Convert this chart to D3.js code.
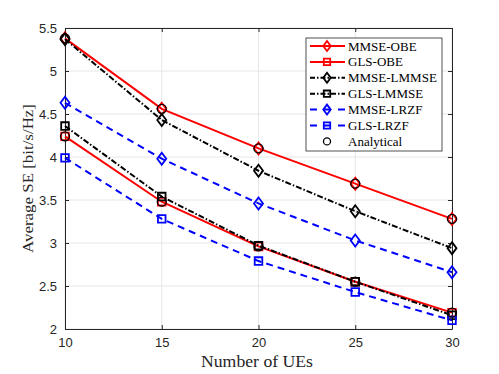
<!DOCTYPE html>
<html>
<head>
<meta charset="utf-8">
<script src="https://cdn.jsdelivr.net/npm/d3@7"></script>
<style>
  body { margin: 0; background: #fff; }
</style>
</head>
<body>
<div class="chart"></div>
<script>
const ues = [10, 15, 20, 25, 30];
const mmseObe = [5.38, 4.56, 4.10, 3.69, 3.28];
const glsObe = [4.24, 3.48, 2.96, 2.55, 2.19];
const mmseLmmse = [5.37, 4.43, 3.84, 3.37, 2.94];
const glsLmmse = [4.36, 3.54, 2.97, 2.55, 2.16];
const mmseLrzf = [4.63, 3.98, 3.46, 3.03, 2.66];
const glsLrzf = [3.99, 3.28, 2.79, 2.43, 2.10];
const xTicks = [10, 15, 20, 25, 30];
const yTicks = [2, 2.5, 3, 3.5, 4, 4.5, 5, 5.5];

const series = [
  {name: 'MMSE-OBE', values: mmseObe, color: '#ff0000', dash: null, marker: 'diamond'},
  {name: 'GLS-OBE', values: glsObe, color: '#ff0000', dash: null, marker: 'square'},
  {name: 'MMSE-LMMSE', values: mmseLmmse, color: '#000000', dash: '6,2,1.5,2', marker: 'diamond'},
  {name: 'GLS-LMMSE', values: glsLmmse, color: '#000000', dash: '6,2,1.5,2', marker: 'square'},
  {name: 'MMSE-LRZF', values: mmseLrzf, color: '#0000ff', dash: '7,5', marker: 'diamond'},
  {name: 'GLS-LRZF', values: glsLrzf, color: '#0000ff', dash: '7,5', marker: 'square'}
];
// analytical results sit on the OBE curves
const analytical = [mmseObe, glsObe];

const width = 499, height = 374;
const margin = {top: 28, right: 47, bottom: 45, left: 65};

const svg = d3.select('.chart')
  .append('svg')
    .attr('width', width)
    .attr('height', height);

const x = d3.scaleLinear()
  .domain([10, 30])
  .range([margin.left, width - margin.right]);

const y = d3.scaleLinear()
  .domain([2, 5.5])
  .range([height - margin.bottom, margin.top]);

const axisColor = '#262626';

// grid
svg.append('g')
  .selectAll('line')
  .data(xTicks)
  .enter()
  .append('line')
    .attr('x1', d => x(d)).attr('x2', d => x(d))
    .attr('y1', y(2)).attr('y2', y(5.5))
    .attr('stroke', '#e6e6e6');

svg.append('g')
  .selectAll('line')
  .data(yTicks)
  .enter()
  .append('line')
    .attr('x1', x(10)).attr('x2', x(30))
    .attr('y1', d => y(d)).attr('y2', d => y(d))
    .attr('stroke', '#e6e6e6');

// axes with inward ticks on all sides
const tickFont = '"Liberation Sans", Arial, sans-serif';
const styleAxis = g => {
  g.select('.domain').attr('stroke', axisColor);
  g.selectAll('.tick line').attr('stroke', axisColor);
  g.selectAll('.tick text').attr('fill', axisColor).attr('font-family', tickFont).attr('font-size', '13px');
};

svg.append('g')
  .attr('transform', `translate(0,${y(2)})`)
  .call(d3.axisBottom(x).tickValues(xTicks).tickSizeInner(-4).tickSizeOuter(0).tickPadding(9))
  .call(styleAxis);

svg.append('g')
  .attr('transform', `translate(0,${y(5.5)})`)
  .call(d3.axisTop(x).tickValues(xTicks).tickSizeInner(-4).tickSizeOuter(0).tickFormat(''))
  .call(styleAxis);

svg.append('g')
  .attr('transform', `translate(${x(10)},0)`)
  .call(d3.axisLeft(y).tickValues(yTicks).tickSizeInner(-4).tickSizeOuter(0).tickPadding(8).tickFormat(d3.format('')))
  .call(styleAxis);

svg.append('g')
  .attr('transform', `translate(${x(30)},0)`)
  .call(d3.axisRight(y).tickValues(yTicks).tickSizeInner(-4).tickSizeOuter(0).tickFormat(''))
  .call(styleAxis);

// lines
const line = d3.line()
  .x((d, i) => x(ues[i]))
  .y(d => y(d));

const diamond = (cx, cy, r) => `M${cx},${cy - r}L${cx + r * 0.75},${cy}L${cx},${cy + r}L${cx - r * 0.75},${cy}Z`;
const square = (cx, cy, r) => `M${cx - r},${cy - r}h${2 * r}v${2 * r}h${-2 * r}Z`;

function drawMarker(g, s, cx, cy, big) {
  const p = s.marker === 'diamond' ? diamond(cx, cy, big ? 6 : 5) : square(cx, cy, big ? 3.8 : 3.2);
  g.append('path')
    .attr('d', p)
    .attr('fill', 'none')
    .attr('stroke', s.color)
    .attr('stroke-width', 1.8);
}

series.forEach(s => {
  const g = svg.append('g');
  g.append('path')
    .datum(s.values)
    .attr('d', line)
    .attr('fill', 'none')
    .attr('stroke', s.color)
    .attr('stroke-width', 2)
    .attr('stroke-dasharray', s.dash);
  s.values.forEach((v, i) => drawMarker(g, s, x(ues[i]), y(v), true));
});

analytical.forEach(vals => {
  svg.append('g')
    .selectAll('circle')
    .data(vals)
    .enter()
    .append('circle')
      .attr('cx', (d, i) => x(ues[i]))
      .attr('cy', d => y(d))
      .attr('r', 4.5)
      .attr('fill', 'none')
      .attr('stroke', '#000')
      .attr('stroke-width', 1.3);
});

// axis labels
const serif = '"Liberation Serif", "DejaVu Serif", serif';
svg.append('text')
  .attr('x', 257)
  .attr('y', 367)
  .attr('text-anchor', 'middle')
  .attr('font-family', serif)
  .attr('font-size', '16px')
  .attr('textLength', 112)
  .attr('lengthAdjust', 'spacingAndGlyphs')
  .attr('fill', axisColor)
  .text('Number of UEs');

svg.append('text')
  .attr('transform', `translate(33,${(104 + 253) / 2}) rotate(-90)`)
  .attr('text-anchor', 'middle')
  .attr('font-family', serif)
  .attr('font-size', '15px')
  .attr('textLength', 149)
  .attr('lengthAdjust', 'spacingAndGlyphs')
  .attr('fill', axisColor)
  .text('Average SE [bit/s/Hz]');

// legend
const lg = svg.append('g');
const lx = 306, ly = 38, lw = 136, lh = 113;
lg.append('rect')
  .attr('x', lx).attr('y', ly)
  .attr('width', lw).attr('height', lh)
  .attr('fill', '#fff')
  .attr('stroke', axisColor)
  .attr('stroke-width', 0.8);

const entries = series.concat([{name: 'Analytical', analytical: true}]);
entries.forEach((s, i) => {
  const yy = ly + 8 + i * 15.9;
  const row = lg.append('g');
  if (s.analytical) {
    row.append('circle')
      .attr('cx', 327).attr('cy', yy).attr('r', 3.5)
      .attr('fill', 'none').attr('stroke', '#000').attr('stroke-width', 1.3);
  } else {
    row.append('line')
      .attr('x1', 310).attr('x2', 345)
      .attr('y1', yy).attr('y2', yy)
      .attr('stroke', s.color)
      .attr('stroke-width', 2)
      .attr('stroke-dasharray', s.dash ? (s.color === '#0000ff' ? '7,7' : '5,2,1.5,2') : null);
    drawMarker(row, s, 327, yy, false);
  }
  row.append('text')
    .attr('x', 348)
    .attr('y', yy + 4.5)
    .attr('font-family', serif)
    .attr('font-size', '13px')
    .attr('fill', '#000')
    .text(s.name);
});
</script>
</body>
</html>
